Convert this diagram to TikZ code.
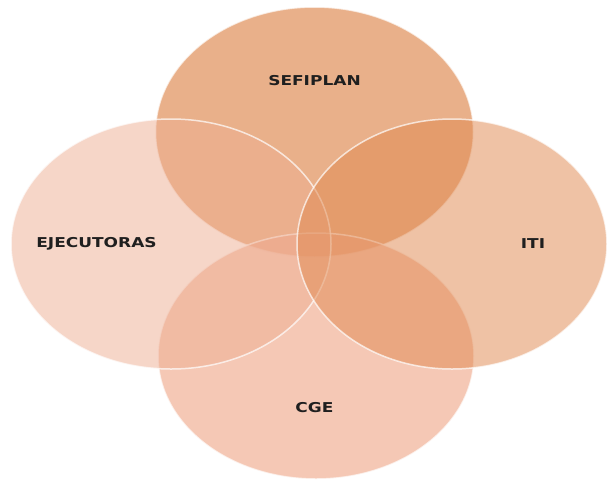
\documentclass[tikz,border=0pt]{standalone}
\usepackage{fontspec}
\newfontfamily\labfont[FakeStretch=1.25]{DejaVu Sans Bold}
\usetikzlibrary{shapes.geometric}
\definecolor{ctop}{RGB}{226,150,99}
\definecolor{cbot}{RGB}{240,173,145}
\definecolor{cleft}{RGB}{237,173,145}
\definecolor{cright}{RGB}{224,138,82}
\tikzset{
  blob/.style={ellipse, draw=white, draw opacity=0.7, line width=1.5pt, inner sep=0pt},
  lab/.style={font=\labfont\fontsize{13.6}{15}\selectfont, text=black!88, inner sep=0pt}
}
\begin{document}
\begin{tikzpicture}[x=1pt,y=-1pt]
\useasboundingbox (0,0) rectangle (607,485);
\node[blob, fill=ctop, fill opacity=0.75, minimum width=318pt, minimum height=250pt] (sef) at (314.5,132) {};
\node[blob, fill=cbot, fill opacity=0.67, minimum width=316pt, minimum height=246pt] (cge) at (316,356) {};
\node[blob, fill=cleft, fill opacity=0.5, minimum width=320pt, minimum height=250pt] (eje) at (171,244) {};
\node[blob, fill=cright, fill opacity=0.52, minimum width=310pt, minimum height=250pt] (iti) at (452,244) {};
\node[lab] (tsef) at (314.5,81) {SEFIPLAN};
\node[lab] (teje) at (96.5,244) {EJECUTORAS};
\node[lab] (titi) at (533,244) {ITI};
\node[lab] (tcge) at (314.5,408) {CGE};
\end{tikzpicture}
\end{document}
